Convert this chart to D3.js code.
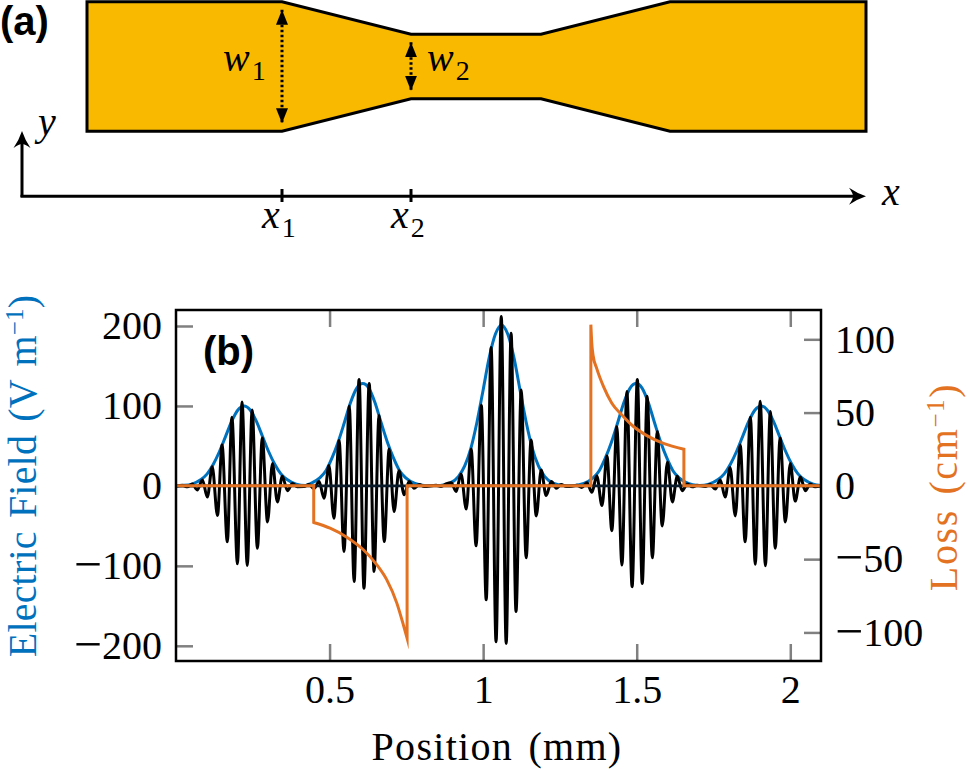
<!DOCTYPE html>
<html>
<head>
<meta charset="utf-8">
<script src="https://cdn.jsdelivr.net/npm/d3@7"></script>
<style>
  html, body { margin: 0; padding: 0; background: #fff; }
  svg { display: block; }
  text { font-family: "Liberation Serif", serif; fill: #000; }
</style>
</head>
<body>
<div id="chart"></div>
<script>
// Panel (a): waveguide outline
const deviceX = [0, 195, 324, 454, 583, 779];
const deviceWidth = [129.5, 129.5, 64.5, 64.5, 129.5, 129.5];
const markerX = [195, 324];
const markerNames = ["1", "2"];

// Panel (b): field extrema (mm, V/m)
const fieldX = [0, .021, .037, .053, .069, .086, .102, .118, .135, .150, .167, .182, .200, .215, .232, .248, .265, .281, .298, .314, .330, .346, .363, .379, .395,
  .417, .433, .449, .466, .482, .498, .514, .531, .547, .564, .580, .596, .612, .629, .645, .661, .678, .694, .710, .726, .743, .759, .775, .792, .808,
  .847, .863, .879, .896, .912, .928, .945, .961, .977, .994, 1.010, 1.026, 1.042, 1.059, 1.075, 1.091, 1.107, 1.124, 1.140, 1.156, 1.173, 1.189, 1.205, 1.222, 1.238, 1.254, 1.271,
  1.289, 1.305, 1.321, 1.338, 1.354, 1.370, 1.387, 1.403, 1.419, 1.435, 1.452, 1.468, 1.485, 1.502, 1.518, 1.534, 1.551, 1.567, 1.583, 1.600, 1.616, 1.632, 1.648, 1.665, 1.681, 1.697,
  1.723, 1.739, 1.756, 1.772, 1.788, 1.804, 1.821, 1.837, 1.853, 1.870, 1.886, 1.902, 1.919, 1.935, 1.951, 1.967, 1.984, 2.000, 2.016, 2.033, 2.049, 2.065, 2.081, 2.100];
const fieldY = [0, .8, -1.2, 2.5, -5, 7.5, -14, 24, -37, 51, -70, 86, -97.5, 105, -99.5, 95, -78, 60, -45, 28, -20, 12, -6, 3, -1,
  -.8, 1.7, -3.3, 5.4, -15.4, 25.4, -40.4, 56.7, -82, 100, -119.6, 133, -128, 128, -107, 88, -69.6, 46, -32, 19, -11, 5.4, -2.9, 1.7, -.8,
  .8, -.8, 2.5, 4, -7, 15, -29, 46, -75, 101, -142.5, 173, -195, 212, -197, 191, -157, 120, -90, 57.5, -37.5, 20, -12, 5.4, -2.9, 1.7, -.8,
  -.4, .8, -2, 4, -8, 12.5, -24.6, 37.5, -56, 74, -99, 118, -126, 133, -122, 112, -90, 68, -50, 30, -20, 12, -6, 2.5, -1.2, .8,
  -.8, 1.7, -4, 7.5, -14, 23, -37.5, 51, -70, 86, -98, 106, -100, 93, -78, 60, -45, 28, -19, 11, -6, 2.5, -1.2, 0];

// Blue envelope (mm, V/m)
const envelopeX = [0, .0215, .0515, .0815, .1015, .1215, .1415, .1615, .1815, .2015, .2215, .2415, .2615, .2815, .3015, .3215, .3415, .3615, .3915, .4215,
  .438, .468, .488, .508, .528, .548, .568, .588, .608, .628, .648, .668, .688, .708, .728, .748, .778, .808,
  .86, .89, .92, .94, .96, .98, 1.0, 1.02, 1.04, 1.06, 1.08, 1.10, 1.12, 1.14, 1.16, 1.18, 1.20, 1.23, 1.26,
  1.298, 1.328, 1.358, 1.378, 1.398, 1.418, 1.438, 1.458, 1.478, 1.498, 1.518, 1.538, 1.558, 1.578, 1.598, 1.618, 1.638, 1.668, 1.698,
  1.705, 1.735, 1.765, 1.785, 1.805, 1.825, 1.845, 1.865, 1.885, 1.905, 1.925, 1.945, 1.965, 1.985, 2.005, 2.025, 2.045, 2.075, 2.1];
const envelopeY = [0, .5, 2.3, 8, 15, 27, 43, 62, 81, 95, 100, 95, 81, 62, 43, 27, 15, 8, 2.3, .5,
  3, 10, 19, 35, 55, 79, 104, 122, 128, 122, 104, 79, 55, 35, 19, 10, 3, .6,
  .6, 3, 12, 25, 47, 80, 120, 161, 190, 201, 190, 161, 120, 80, 47, 25, 12, 3, .6,
  .6, 3, 10, 19, 35, 55, 79, 104, 122, 128, 122, 104, 79, 55, 35, 19, 10, 3, .6,
  .5, 2.3, 8, 15, 27, 43, 62, 81, 95, 100, 95, 81, 62, 43, 27, 15, 8, 2.3, .5];

// Flat dark trace along zero
const zeroX = [0, 2.1];
const zeroY = [0, 0];

// Orange loss profile (mm, 1/cm): flat stretches joined by the two curved sections
const lossFlatX = [0, .4484, .7524, 1.3507, 1.6536, 2.1];
const lossDipX = [.4484, .5016, .556, .610, .654, .686, .719, .7405, .7524];
const lossDipY = [-25, -28.9, -35, -43.6, -53.9, -64, -80, -95, -104];
const lossRiseX = [1.3507, 1.3535, 1.358, 1.370, 1.392, 1.419, 1.4517, 1.4896, 1.533, 1.587, 1.6536];
const lossRiseY = [110, 98, 89, 80, 67.7, 56.4, 48.4, 40.5, 34.3, 29, 25];

// Tick values and labels
const positionTicks = [0.5, 1, 1.5, 2];
const positionLabels = ["0.5", "1", "1.5", "2"];
const fieldTicks = [-200, -100, 0, 100, 200];
const lossTicks = [-100, -50, 0, 50, 100];

const blue = "#0072BD";
const orange = "#E37222";
const gold = "#F9B900";

const svg = d3.select("#chart")
    .append("svg")
    .attr("width", 969)
    .attr("height", 770);

// Arrow heads
const defs = svg.append("defs");
defs.append("marker")
    .attr("id", "stealth")
    .attr("viewBox", "-12 -9 19 18")
    .attr("refX", 0)
    .attr("refY", 0)
    .attr("markerUnits", "userSpaceOnUse")
    .attr("markerWidth", 19)
    .attr("markerHeight", 18)
    .attr("orient", "auto")
    .append("path")
    .attr("d", "M6,0 Q-3,-3 -11,-8.5 Q-7,-3 -7,0 Q-7,3 -11,8.5 Q-3,3 6,0Z");
defs.append("marker")
    .attr("id", "head")
    .attr("viewBox", "-15 -6 15 12")
    .attr("refX", 0)
    .attr("refY", 0)
    .attr("markerUnits", "userSpaceOnUse")
    .attr("markerWidth", 15)
    .attr("markerHeight", 12)
    .attr("orient", "auto")
    .append("path")
    .attr("d", "M0,0 L-15,-6 L-15,6Z");

// Math label with a subscript
function mathLabel(x, y, name, sub) {
    const t = svg.append("text")
        .attr("x", x)
        .attr("y", y)
        .attr("font-size", 40)
        .attr("font-style", "italic")
        .text(name);
    if (sub) {
        t.append("tspan")
            .attr("font-style", "normal")
            .attr("font-size", 28)
            .attr("dy", 9)
            .attr("dx", 2)
            .text(sub);
    }
}

drawDevice();
drawPlot();

// Panel (a)
function drawDevice() {
    const dx = d3.scaleLinear().domain([0, 779]).range([87, 866]);
    const dy = d3.scaleLinear().domain([-65, 65]).range([131.5, 1.5]);

    const shape = d3.area()
        .x((d, i) => dx(deviceX[i]))
        .y0((d, i) => dy(-deviceWidth[i] / 2))
        .y1((d, i) => dy(deviceWidth[i] / 2));

    svg.append("path")
        .attr("d", shape(deviceX) + "")
        .attr("fill", gold)
        .attr("stroke", "#000")
        .attr("stroke-width", 3)
        .attr("stroke-linejoin", "miter");

    // Width arrows, dotted with a head at each end
    markerX.forEach(function(m, i) {
        const half = deviceWidth[deviceX.indexOf(m)] / 2;
        svg.append("line")
            .attr("x1", dx(m))
            .attr("x2", dx(m))
            .attr("y1", dy(half) + 8)
            .attr("y2", dy(-half) - 8)
            .attr("stroke", "#000")
            .attr("stroke-width", 3)
            .attr("stroke-dasharray", "2.5 2.5");
        [[dy(half) + 23, dy(half) + 8], [dy(-half) - 23, dy(-half) - 8]].forEach(function(p) {
            svg.append("line")
                .attr("x1", dx(m))
                .attr("x2", dx(m))
                .attr("y1", p[0])
                .attr("y2", p[1])
                .attr("stroke", "none")
                .attr("marker-end", "url(#head)");
        });
    });

    // Coordinate axes
    svg.append("line")
        .attr("x1", 20.5).attr("y1", 196.3)
        .attr("x2", 860).attr("y2", 196.3)
        .attr("stroke", "#000").attr("stroke-width", 3)
        .attr("marker-end", "url(#stealth)");
    svg.append("line")
        .attr("x1", 22).attr("y1", 197)
        .attr("x2", 22).attr("y2", 137)
        .attr("stroke", "#000").attr("stroke-width", 3)
        .attr("marker-end", "url(#stealth)");
    svg.selectAll(".station")
        .data(markerX)
        .enter()
        .append("line")
        .attr("class", "station")
        .attr("x1", d => dx(d))
        .attr("x2", d => dx(d))
        .attr("y1", 189)
        .attr("y2", 202)
        .attr("stroke", "#000")
        .attr("stroke-width", 3);

    mathLabel(223, 71, "w", "1");
    mathLabel(427, 71, "w", "2");
    mathLabel(38, 135, "y");
    mathLabel(882, 205, "x");
    markerX.forEach((m, i) => mathLabel(dx(m) - 20, 228, "x", markerNames[i]));

    svg.append("text")
        .attr("x", 0)
        .attr("y", 35)
        .attr("font-size", 40)
        .attr("font-weight", "bold")
        .style("font-family", "'Liberation Sans', sans-serif")
        .text("(a)");
}

// Panel (b)
function drawPlot() {
    const left = 176, right = 821, top = 310, bottom = 661;
    const x = d3.scaleLinear().domain([0, 2.1]).range([left, right]);
    const yField = d3.scaleLinear().domain([-219, 220]).range([bottom, top]);
    const yLoss = d3.scaleLinear().domain([-119.5, 120]).range([bottom, top]);

    // Ticks point inwards on all four sides
    const axes = [
        { a: d3.axisBottom(x).tickValues(positionTicks).tickFormat((d, i) => positionLabels[i]).tickPadding(14), at: [0, bottom] },
        { a: d3.axisTop(x).tickValues(positionTicks).tickFormat(""), at: [0, top] },
        { a: d3.axisLeft(yField).tickValues(fieldTicks).tickPadding(14), at: [left, 0] },
        { a: d3.axisRight(yLoss).tickValues(lossTicks).tickPadding(14), at: [right, 0] }
    ];
    axes.forEach(function(d) {
        const g = svg.append("g")
            .attr("transform", `translate(${d.at[0]},${d.at[1]})`)
            .call(d.a.tickSizeInner(-17).tickSizeOuter(0));
        g.select(".domain").remove();
        g.selectAll(".tick line").attr("stroke", "#808080").attr("stroke-width", 2.5);
        g.selectAll(".tick text")
            .attr("fill", "#000")
            .style("font-family", "'Liberation Serif', serif")
            .style("font-size", "40px")
            .each(function(v) {
                // Long minus sign, larger than the digits next to it
                if (v < 0) {
                    const t = d3.select(this);
                    t.text("");
                    t.append("tspan").attr("font-size", 50).attr("dy", 14.8).text("\u2212");
                    t.append("tspan").attr("dy", -2).text(Math.abs(v));
                }
            });
    });

    // Traces
    svg.append("path")
        .attr("d", d3.line().x((d, i) => x(envelopeX[i])).y(d => yField(d)).curve(d3.curveMonotoneX)(envelopeY))
        .attr("fill", "none")
        .attr("stroke", blue)
        .attr("stroke-width", 3);

    svg.append("path")
        .attr("d", d3.line().x((d, i) => x(fieldX[i])).y(d => yField(d)).curve(d3.curveMonotoneX)(fieldY))
        .attr("fill", "none")
        .attr("stroke", "#000")
        .attr("stroke-width", 3);

    svg.append("path")
        .attr("d", d3.line().x((d, i) => x(zeroX[i])).y(d => yField(d))(zeroY))
        .attr("fill", "none")
        .attr("stroke", "#0a1a2a")
        .attr("stroke-width", 2.6);

    // Loss: straight runs along zero with the curved sections spliced in
    const flat = (i, j) => `L${x(lossFlatX[i])},${yLoss(0)}L${x(lossFlatX[j])},${yLoss(0)}`;
    const bend = d3.line().x(d => x(d[0])).y(d => yLoss(d[1])).curve(d3.curveMonotoneX);
    const dip = bend(lossDipX.map((d, i) => [d, lossDipY[i]])).replace("M", "L");
    const rise = bend(lossRiseX.map((d, i) => [d, lossRiseY[i]])).replace("M", "L");
    svg.append("path")
        .attr("d", "M" + flat(0, 1).slice(1) + dip + flat(2, 3) + rise + flat(4, 5))
        .attr("fill", "none")
        .attr("stroke", orange)
        .attr("stroke-width", 3)
        .attr("stroke-linejoin", "miter")
        .attr("stroke-miterlimit", 20);

    // Frame on top of the ticks
    svg.append("rect")
        .attr("x", left)
        .attr("y", top)
        .attr("width", right - left)
        .attr("height", bottom - top)
        .attr("fill", "none")
        .attr("stroke", "#000")
        .attr("stroke-width", 2.5);

    svg.append("text")
        .attr("x", 203)
        .attr("y", 365)
        .attr("font-size", 40)
        .attr("font-weight", "bold")
        .style("font-family", "'Liberation Sans', sans-serif")
        .text("(b)");

    // Axis titles
    svg.append("text")
        .attr("x", 497)
        .attr("y", 760)
        .attr("text-anchor", "middle")
        .attr("font-size", 40)
        .style("letter-spacing", "1.3px")
        .style("word-spacing", "4px")
        .text("Position (mm)");

    unitTitle(36, 476, "Electric Field (V m", blue, 0.2);
    unitTitle(957, 487, "Loss (cm", orange, 1.6);

    function unitTitle(tx, ty, name, colour, spacing) {
        const t = svg.append("text")
            .attr("transform", `translate(${tx},${ty}) rotate(-90)`)
            .attr("text-anchor", "middle")
            .attr("font-size", 40)
            .style("fill", colour)
            .style("letter-spacing", spacing + "px")
            .style("word-spacing", "3px")
            .text(name);
        t.append("tspan")
            .attr("font-size", 25)
            .attr("dy", -13)
            .text("\u22121");
        t.append("tspan")
            .attr("dy", 13)
            .text(")");
    }
}
</script>
</body>
</html>
